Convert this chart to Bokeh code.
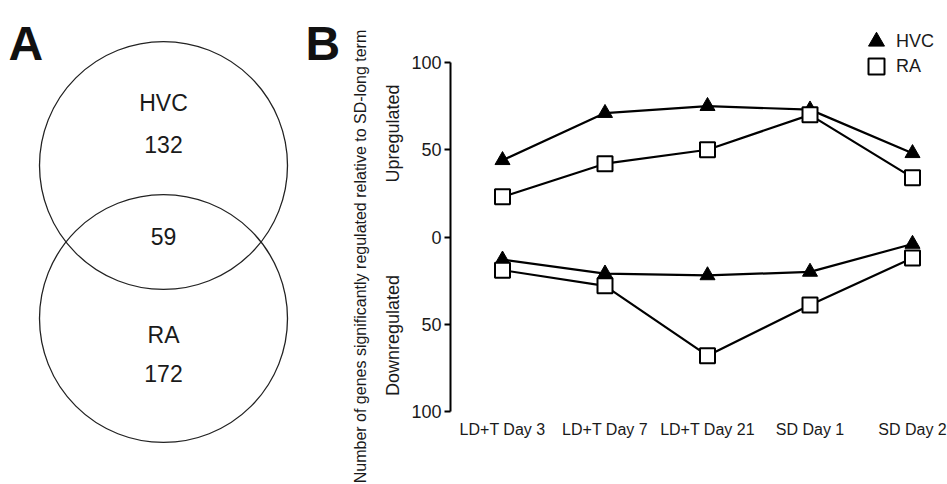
import math
from bokeh.plotting import figure
from bokeh.models import (Range1d, FixedTicker, Label, Legend, LegendItem,
                          ColumnDataSource, LinearAxis)
from bokeh.core.properties import value
from bokeh.embed import file_html
from bokeh.resources import INLINE

# ---------------- data ----------------
venn_sets = ["HVC", "RA"]
venn_only = [132, 172]
venn_shared = 59

categories = ["LD+T Day 3", "LD+T Day 7", "LD+T Day 21", "SD Day 1", "SD Day 2"]
hvc_up = [44, 71, 75, 73, 48]
ra_up = [23, 42, 50, 70, 34]
hvc_down = [13, 21, 22, 20, 4]
ra_down = [19, 28, 68, 39, 12]
y_ticks = [-100, -50, 0, 50, 100]

FONT = "Liberation Sans"
TXT = "#1a1a1a"

# ---------------- layout (page pixels) ----------------
W, H = 947, 484
X0, DX = 502.0, 102.5      # page x of first category, px per category
Y0, DY = 236.5, 1.745      # page y of zero, px per gene
AXIS_X = 450.0             # page x of the y axis line

p = figure(width=W, height=H, output_backend="svg", toolbar_location=None,
           x_range=Range1d(-X0 / DX, (W - X0) / DX),
           y_range=Range1d(-(H - Y0) / DY, Y0 / DY),
           x_axis_type=None, y_axis_type=None,
           min_border=0, outline_line_color=None)
p.grid.visible = False
p.extra_x_ranges = {"px": Range1d(0, W)}
p.extra_y_ranges = {"py": Range1d(H, 0)}

# ---------------- panel A: Venn ----------------
cx, r = 163, 124
cys = [165, 318]
p.circle(x=[cx, cx], y=cys, radius=r, fill_color=None,
         line_color="#222222", line_width=1.3,
         x_range_name="px", y_range_name="py")
venn_src = ColumnDataSource(dict(
    x=[cx] * 5,
    y=[cys[0] - 63, cys[0] - 21, (cys[0] + cys[1]) / 2 - 6, cys[1] + 16, cys[1] + 55],
    t=[venn_sets[0], str(venn_only[0]), str(venn_shared), venn_sets[1], str(venn_only[1])],
))
p.text(x="x", y="y", text="t", source=venn_src, text_align="center",
       text_baseline="middle", text_font=value(FONT), text_font_size="23px",
       text_color=TXT, x_range_name="px", y_range_name="py")

def plabel(x, y, text, size, **kw):
    p.add_layout(Label(x=x, y=y, text=text, text_font=FONT, text_font_size=size,
                       x_range_name="px", y_range_name="py", **kw))

plabel(8, 43, "A", "48px", text_font_style="bold", text_color="#111111",
       text_baseline="alphabetic")
plabel(305, 43, "B", "48px", text_font_style="bold", text_color="#111111",
       text_baseline="alphabetic")
plabel(360, 256, "Number of genes significantly regulated relative to SD-long term",
       "16px", angle=math.pi / 2, text_align="center", text_baseline="middle",
       text_color=TXT)
plabel(392, 133, "Upregulated", "18px", angle=math.pi / 2, text_align="center",
       text_baseline="middle", text_color=TXT)
plabel(392, 335, "Downregulated", "18px", angle=math.pi / 2, text_align="center",
       text_baseline="middle", text_color=TXT)

# ---------------- panel B: line chart ----------------
xs = list(range(len(categories)))
neg = lambda v: [-a for a in v]

p.line(xs, hvc_up, line_color="black", line_width=2.2)
p.line(xs, neg(hvc_down), line_color="black", line_width=2.2)
t1 = p.scatter(xs, hvc_up, marker="triangle", size=15, fill_color="black",
               line_color="black")
p.scatter(xs, neg(hvc_down), marker="triangle", size=15, fill_color="black",
          line_color="black")
p.line(xs, ra_up, line_color="black", line_width=2.2)
p.line(xs, neg(ra_down), line_color="black", line_width=2.2)
s1 = p.scatter(xs, ra_up, marker="square", size=15, fill_color="white",
               line_color="black", line_width=2)
p.scatter(xs, neg(ra_down), marker="square", size=15, fill_color="white",
          line_color="black", line_width=2)

yax = LinearAxis(fixed_location=(AXIS_X - X0) / DX, bounds=(-100, 100),
                 ticker=FixedTicker(ticks=y_ticks))
yax.major_label_overrides = {t: str(abs(t)) for t in y_ticks}
yax.minor_tick_line_color = None
yax.axis_line_width = 2
yax.major_tick_line_width = 2
yax.major_tick_out = 6
yax.major_tick_in = 0
yax.major_label_standoff = 3
yax.major_label_text_font = FONT
yax.major_label_text_font_size = "18px"
yax.major_label_text_color = TXT
p.add_layout(yax, "left")

xax = LinearAxis(fixed_location=-100, ticker=FixedTicker(ticks=xs))
xax.major_label_overrides = {i: c for i, c in zip(xs, categories)}
xax.axis_line_color = None
xax.major_tick_line_color = None
xax.minor_tick_line_color = None
xax.major_label_standoff = 3
xax.major_label_text_font = FONT
xax.major_label_text_font_size = "16px"
xax.major_label_text_color = TXT
p.add_layout(xax, "below")

legend_style = dict(padding=0, margin=0, spacing=0, glyph_width=40,
                    glyph_height=40, label_height=20, label_standoff=-1,
                    border_line_color=None, background_fill_alpha=0,
                    label_text_font=FONT, label_text_font_size="18px",
                    label_text_color=TXT)
p.add_layout(Legend(items=[LegendItem(label="HVC", renderers=[t1])],
                    location=(856, 423), **legend_style))
p.add_layout(Legend(items=[LegendItem(label="RA", renderers=[s1])],
                    location=(856, 398), **legend_style))

open("out.html", "w").write(file_html(p, INLINE))
